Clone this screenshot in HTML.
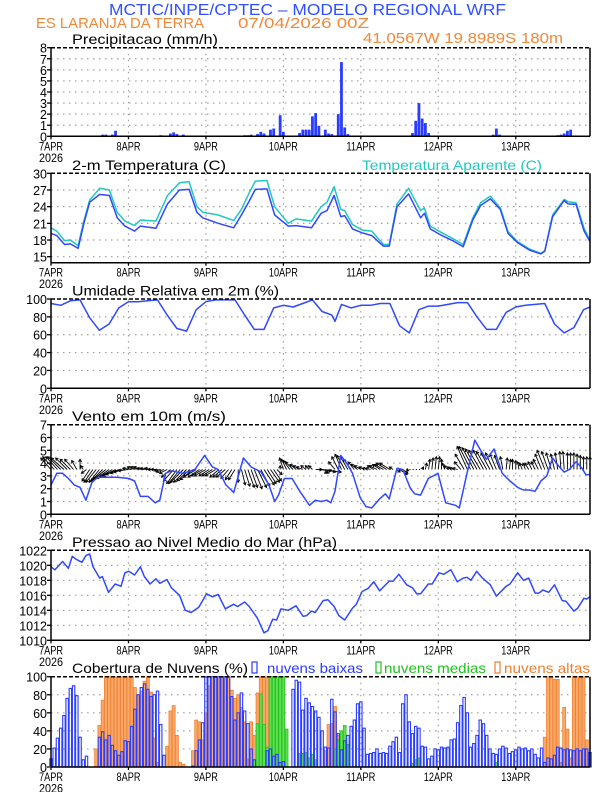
<!DOCTYPE html>
<html><head><meta charset="utf-8">
<style>
html,body{margin:0;padding:0;background:#fff;}
svg{display:block;font-family:"Liberation Sans",sans-serif;}
</style></head>
<body>
<svg id="chart" width="612" height="792" viewBox="0 0 612 792" xmlns="http://www.w3.org/2000/svg">
<text x="109" y="15" font-size="16" fill="#3050ff" textLength="397" lengthAdjust="spacingAndGlyphs">MCTIC/INPE/CPTEC – MODELO REGIONAL WRF</text>
<text x="36" y="28" font-size="15" fill="#f08838" textLength="168" lengthAdjust="spacingAndGlyphs">ES LARANJA DA TERRA</text>
<text x="238" y="28" font-size="15" fill="#f08838" textLength="131" lengthAdjust="spacingAndGlyphs">07/04/2026 00Z</text>
<text x="363" y="43" font-size="15" fill="#f08838" textLength="200" lengthAdjust="spacingAndGlyphs">41.0567W 19.8989S 180m</text>
</svg>
<script>
// ---------- DATA ----------
const dayLabels = ["7APR","8APR","9APR","10APR","11APR","12APR","13APR"];
const yearLabel = "2026";

const precipHours = [16,17,19,20,34,37,38,39,41,50,55,60,61,62,64,65,66,68,69,71,72,77,78,79,80,81,82,83,85,86,87,89,90,91,92,110,111,112,113,114,115,116,117,135,136,137,138,139,157,158,159,160,161];
const precipValues = [0.15,0.15,0.15,0.5,0.1,0.25,0.35,0.2,0.15,0.05,0.05,0.1,0.1,0.15,0.2,0.4,0.25,0.6,0.7,1.9,0.4,0.3,0.6,0.6,0.6,1.8,2.1,0.95,0.6,0.25,0.2,2.0,6.7,0.8,0.2,0.05,0.05,0.3,1.4,3.0,1.6,1.2,0.3,0.05,0.05,0.15,0.7,0.15,0.1,0.15,0.25,0.5,0.6];

const tempHours = [0,1.8,4.2,6,8.4,10.2,12,15.1,18.1,20.5,22.9,25.9,27.7,32.5,36.1,39.8,42.8,45.2,47,51.8,56.6,59,61.4,63.3,66.9,69.3,73.5,75.9,80.7,83.7,85.5,87.7,89.8,91,93.4,96.4,99.4,103,104.8,107.2,110.8,114.5,115.7,117.5,121.1,124.7,127.7,130.7,133.1,136.1,139.2,141.6,144.6,148.2,151.8,153,155.4,159,160.2,162.7,165.1,166.9];
const tempValues = [19.2,18.8,17.2,17.3,16.5,21,24.8,26.2,26,22,20.5,19.6,20.5,20.1,24.5,27,27.1,23,22,21,20.2,22.5,25,27.1,27.2,22.5,20.5,20.6,20.2,22.8,23.3,26,22.2,22.4,20,19.3,18.8,16.9,16.9,24,26.3,22,22.8,20,18.8,17.8,16.8,21.6,24.2,25.4,23.5,19.2,17.5,16.2,15.5,16,22.2,25.1,24.5,24.4,19.7,17.8];
const apparentValues = [20.2,19.6,17.9,18,17,21.5,25.2,27.3,27,23,21.4,20.6,21.6,21.4,26,28.3,28.5,24,23,22.5,21.5,23.5,26.5,28.6,28.7,24,21,21.8,21.4,24,24.8,27.6,23.5,23.3,20.8,19.8,19.6,17.2,17.2,24.5,27.3,23.3,23.8,20.5,19.3,18.2,17.2,22,24.7,25.9,23.8,19.5,17.7,16.4,15.6,16.1,22.5,25.3,24.9,24.7,20.2,18];

const rhHours = [0,3,6,9,12,15,18,21,24,27,30,33,36,39,42,45,48,51,54,57,60,63,66,69,72,75,78,81,84,87,88,90,93,96,99,102,105,108,111,114,117,120,123,126,129,132,135,138,141,144,147,150,153,156,159,162,165,167];
const rhValues = [95,93,98,99,79,65,72,90,97,97,98,99,82,67,64,88,97,99,99,99,82,66,66,90,93,91,95,99,86,82,75,94,90,93,93,95,95,70,62,88,92,92,94,96,96,80,66,66,85,91,93,94,95,72,62,68,88,91];

const windHours = [0,1.8,3.6,5.4,7.2,9,10.8,12.7,14.5,20.5,24.1,25.9,27.7,30.1,32.3,33.7,35.5,37.3,41,44.6,47.6,50,51.8,54.2,56.6,59.6,62,65.1,67.5,69.3,70.5,72.3,74.7,77.1,80.1,81.9,83.7,85.5,86.7,88,89.8,91.6,93.4,95.8,97.6,99.4,101.8,103.6,104.8,107.2,109,111.4,112.7,114.5,116.9,119.9,122.3,125.3,126.5,128.9,131.3,133.1,134.9,137.3,139.8,142.2,144.6,146.4,148.2,150,151.8,153.6,155.4,157.2,159,160.6,162.7,164.5,165.7,166.9];
const windSpeed = [2.3,3.2,3.2,2.8,2.3,2.1,1.1,2.5,2.9,2.9,2.8,2.6,1.4,1.4,0.9,1.1,3.2,3.4,3.2,3.5,4.6,3.7,3.5,2.3,1.7,4.4,3.7,3.3,2.3,1.0,1.5,2.8,2.8,1.8,0.7,1.1,1.0,1.1,0.9,1.8,4.6,4.0,3.2,1.3,0.6,0.5,1.2,1.6,1.2,3.6,3.5,2.0,1.6,1.5,2.8,3.2,0.9,0.7,0.5,3.2,5.8,5.0,4.3,5.1,3.2,2.6,2.1,1.9,1.9,1.8,2.6,3.0,4.4,3.8,3.3,3.5,4.1,3.6,3.1,3.1];

// hourly wind vector components, hour 0..167
const vecU = [-0.8,-0.9,-0.9,-1,-1,-0.9,-0.8,-0.7,-0.4,0,-0.2,-0.4,
-0.6,-0.7,-0.8,-0.8,-0.9,-1,-1,-1,-1,-1,-0.9,-0.9,
-0.8,-0.7,-0.6,-0.6,-0.6,-0.6,-0.6,-0.5,-0.5,-0.5,-0.5,-0.6,
-0.6,-0.7,-0.8,-0.8,-0.9,-1,-1,-1,-1,-1,-0.9,-0.9,
-0.9,-0.8,-0.8,-0.8,-0.7,-0.7,-0.7,-0.6,-0.5,-0.5,0,0.3,
0.4,0.5,0.5,0.6,0.7,0.7,0.8,0.7,0.7,0.6,0.4,0,
-0.3,-0.4,-0.5,-0.6,-0.5,-0.5,-0.5,-0.4,-0.3,-0.3,0.5,1.0,
1.5,0.8,-0.3,-0.4,-0.5,-0.5,-0.5,-0.6,-0.6,-0.6,-0.5,-0.5,
-0.5,-0.4,-0.4,-0.4,-0.5,-0.6,-0.6,-0.7,-0.8,-0.8,-0.3,0.3,
0.6,0.4,0.2,0.1,0.1,0.1,0.1,0.1,0.1,0.1,0.1,0.1,
0.1,0,-0.2,-0.3,-0.3,-0.4,-0.4,-0.5,-0.7,-0.8,-0.9,-0.9,
-0.9,-0.9,-0.8,-0.8,-0.7,-0.6,-0.5,-0.4,-0.2,0.1,0.1,0,
0,-0.1,-0.2,-0.2,-0.3,-0.3,-0.3,-0.4,-0.5,-0.6,-0.5,-0.4,
-0.3,-0.2,-0.1,-0.1,0,0,0,0,0,0,0,0];
const vecV = [0.9,1,1,1,0.9,0.9,0.8,0.8,0.7,0.8,0.3,-0.3,
-0.9,-1,-1,-1,-0.9,-0.8,-0.7,-0.6,-0.5,-0.4,-0.3,-0.2,
-0.1,0.1,0.2,0.2,0.2,0.1,0.1,0.1,0,0,-0.1,-0.2,
-0.3,-0.6,-0.9,-1.1,-1.1,-1.0,-1.0,-0.9,-0.8,-0.6,-0.6,-0.5,
-0.5,-0.5,-0.5,-0.5,-0.6,-0.6,-0.6,-0.7,-0.8,-0.8,-1,-1.2,
-1.3,-1.4,-1.4,-1.5,-1.4,-1.3,-1.2,-1.1,-1.0,-0.9,-0.4,0.3,
0.9,0.8,0.7,0.6,0.4,0.3,0.2,0.3,0.3,0.3,0,-0.1,
-0.2,-0.2,-0.3,-0.3,0.6,1.0,1.2,1.1,1.0,0.8,0.6,0.4,
0.3,0.2,0.1,0.1,0.3,0.3,0.4,0.4,0.5,0.5,0.2,-0.2,
-0.4,-0.3,-0.1,0,0,0,0,0.2,0.5,0.8,0.9,1.0,
1.0,0.8,0.5,0.3,0.2,0.1,0.1,0.6,1.2,1.8,1.8,1.7,
1.6,1.5,1.5,1.4,1.3,1.3,1.2,1.1,1.0,0.9,0.8,0.8,
0.7,0.6,0.5,0.5,0.5,0.6,0.6,0.8,1.2,1.5,1.4,1.3,
1.2,1.3,1.4,1.4,1.3,1.3,1.3,1.2,1.1,1.0,1.0,1.0];

const presHours = [0,1.2,3.6,5.4,6.6,7.8,9.6,10.8,12,13,15.1,15.9,17.8,19.9,21.7,22.9,24.1,25.9,27.7,28.9,30.7,32.5,33.7,35.9,37.3,39.8,41.6,43.4,45.8,48.2,50,51.8,54,56.6,57.8,60,61.4,63.9,66,67.2,68.7,69.9,71.3,73.5,75.9,78.1,79.2,80.7,81.9,84.3,85.8,87.7,89.2,91,93.4,94.6,96.4,98.2,100,101.8,104.8,106,107.8,110.2,112,113.3,114.5,116.9,118.1,120.2,121.7,123.9,125.9,127.7,128.9,130.1,131.9,133.7,136.1,138,141,142.2,144.6,146.4,148,150,151.2,152.4,154.2,156,158.4,159.6,162,163.2,165.1,166,166.9];
const presValues = [1019.8,1019.4,1020.5,1019.6,1021.2,1020.8,1020.4,1021.3,1021.5,1019.8,1018.3,1018.5,1016.4,1017.5,1017.2,1019,1019.2,1018.7,1019.8,1018.5,1017.5,1018.2,1017.6,1018.1,1017,1016,1014,1013.7,1014.4,1016.2,1015.8,1016.1,1014.2,1014.8,1014.5,1015.1,1014.5,1013,1011,1011.3,1012.8,1012.7,1014.2,1014,1014.6,1013.2,1013.3,1013.9,1013.7,1015.3,1015.4,1014.5,1013.3,1012.7,1014.3,1014.8,1016.5,1016.9,1017.8,1016.6,1017.9,1017.9,1018.8,1017.4,1017,1016.2,1016.2,1017.5,1017.5,1019,1018.8,1019.4,1017.8,1018.3,1018.4,1018,1019.2,1018.3,1017.4,1015.9,1017.2,1017.5,1019,1018,1018.3,1016.3,1016.3,1016.7,1016.4,1017.4,1015.3,1015.2,1013.9,1014.3,1015.6,1015.5,1015.8];

const cloudLow = [9,21,32,43,57,76,87,90,79,33,8,12,0,0,0,33,39,30,35,24,18,13,17,29,28,45,64,80,88,92,86,78,80,84,47,13,0,0,0,0,0,0,0,0,1,18,30,49,100,100,100,100,100,100,100,100,78,52,60,82,62,48,20,8,0,0,0,18,20,12,14,5,6,0,0,86,96,94,63,76,71,67,62,55,40,22,21,75,61,37,19,29,35,45,52,70,72,43,14,15,16,20,15,16,15,23,28,33,16,70,80,50,37,45,43,23,22,9,12,20,19,22,21,22,30,31,49,68,77,60,22,26,35,52,48,35,20,15,14,20,23,21,15,17,19,22,20,21,18,20,14,10,21,5,10,9,13,22,21,19,20,19,18,20,18,20,20,16];
const cloudMidHours = [63,64,65,66,67,68,69,70,71,72,73,77,78,79,80,81,82,88,89,90,91,92,112,113,114,138];
const cloudMidValues = [8,48,81,47,22,100,100,100,100,100,42,15,15,16,10,14,8,20,30,40,46,25,4,8,10,5];
const cloudHighHours = [14,15,16,17,18,19,20,21,22,23,24,25,26,27,28,29,30,31,32,33,36,37,38,39,40,41,44,45,46,47,48,49,50,51,52,53,54,55,56,57,58,59,60,61,62,63,64,65,66,67,68,69,70,71,72,85,86,87,88,89,90,153,154,155,156,157,158,159,160,161,162,163,164,165,166];
const cloudHighValues = [20,46,74,100,100,100,100,100,100,100,100,100,88,80,84,95,100,83,32,5,23,62,68,35,5,3,18,52,50,30,60,90,100,100,100,100,100,100,85,76,80,66,50,9,50,35,82,100,100,100,100,100,100,40,5,18,47,48,67,35,22,33,100,100,97,97,5,66,42,10,100,100,100,100,30];

// ---------- LAYOUT ----------
const NS = "http://www.w3.org/2000/svg";
const svg = document.getElementById("chart");
const X0 = 51, X1 = 590, HMAX = 167;
const xS = h => X0 + h * (X1 - X0) / HMAX;
function mk(tag, attrs, parent) {
  const e = document.createElementNS(NS, tag);
  for (const k in attrs) e.setAttribute(k, attrs[k]);
  (parent || svg).appendChild(e);
  return e;
}
function yScale(p) { return v => p.yAt0 + (v - p.v0) * (p.yAt1 - p.yAt0) / (p.v1 - p.v0); }

const panels = {
  precip: {name:"precip", title:"Precipitacao (mm/h)", tw:146, top:47.7, bot:136.3, v0:0, v1:8, yAt0:136.3, yAt1:47.7, ticks:[0,1,2,3,4,5,6,7,8]},
  temp: {name:"temperature", title:"2-m Temperatura (C)", tw:154, top:173.3, bot:262.7, v0:15, v1:30, yAt0:256.7, yAt1:173.3, ticks:[15,18,21,24,27,30]},
  rh: {name:"humidity", title:"Umidade Relativa em 2m (%)", tw:207, top:299, bot:388.3, v0:0, v1:100, yAt0:388.3, yAt1:299, ticks:[0,20,40,60,80,100]},
  wind: {name:"wind", title:"Vento em 10m (m/s)", tw:154, top:424.7, bot:514.3, v0:0, v1:7, yAt0:514.3, yAt1:424.7, ticks:[0,1,2,3,4,5,6,7]},
  pres: {name:"pressure", title:"Pressao ao Nivel Medio do Mar (hPa)", tw:265, top:550.3, bot:640.3, v0:1010, v1:1022, yAt0:640.3, yAt1:550.3, ticks:[1010,1012,1014,1016,1018,1020,1022]},
  cloud: {name:"cloud", title:"Cobertura de Nuvens (%)", tw:176, top:676.7, bot:767, v0:0, v1:100, yAt0:767, yAt1:676.7, ticks:[0,20,40,60,80,100]}
};

function drawFrame(p) {
  const y = yScale(p);
  const g = mk("g", {});
  
  
  p.ticks.forEach(t => {
    const yy = y(t);
    if (yy > p.top + 1 && yy < p.bot - 1) {
      const l = mk("line", {x1:X0, x2:X1, y1:yy, y2:yy, stroke:"#a0a0a0", "stroke-width":1.2, "stroke-dasharray":"1.5,4.5"}, g);
      
      
    }
  });
  for (let d = 1; d < 7; d++) {
    const xx = xS(d * 24);
    const l = mk("line", {x1:xx, x2:xx, y1:p.top, y2:p.bot, stroke:"#a0a0a0", "stroke-width":1.2, "stroke-dasharray":"1.5,4.5"}, g);
    
    
  }
  const t = mk("text", {x:72, y:p.top - 3.5, "font-size":14, fill:"#000", textLength:p.tw, lengthAdjust:"spacingAndGlyphs"}, g);
  t.textContent = p.title;
  
  
  p.ticks.forEach(v => {
    const yy = y(v);
    const tk = mk("line", {x1:X0 - 4, x2:X0, y1:yy, y2:yy, stroke:"#000", "stroke-width":1.3}, g);
    
    
    const lb = mk("text", {x:X0 - 4, y:yy + 5, "font-size":12.5, "text-anchor":"end", fill:"#000"}, g);
    lb.textContent = String(v);
    
    
  });
  dayLabels.forEach((s, i) => {
    const xx = xS(i * 24);
    const tk = mk("line", {x1:xx, x2:xx, y1:p.bot, y2:p.bot + 3, stroke:"#000", "stroke-width":1.3}, g);
    
    
    const lb = mk("text", {x:xx, y:p.bot + 14, "font-size":12, "text-anchor":"middle", fill:"#000", textLength:s.length > 4 ? 29 : 24, lengthAdjust:"spacingAndGlyphs"}, g);
    lb.textContent = s;
    
    
  });
  const yr = mk("text", {x:xS(0), y:p.bot + 25.5, "font-size":12, "text-anchor":"middle", fill:"#000", textLength:24, lengthAdjust:"spacingAndGlyphs"}, g);
  yr.textContent = yearLabel;
  
  
  return g;
}
function drawBorder(p) {
  const g = mk("g", {});
  
  
  const a = mk("line", {x1:X0, x2:X0, y1:p.top, y2:p.bot, stroke:"#000", "stroke-width":1.5}, g);
  
  
  const b = mk("line", {x1:X0, x2:X1, y1:p.bot, y2:p.bot, stroke:"#000", "stroke-width":1.5}, g);
  
  
  const c = mk("line", {x1:X0, x2:X1, y1:p.top, y2:p.top, stroke:"#000", "stroke-width":1.5, "stroke-dasharray":"4,2"}, g);
  
  
  const d = mk("line", {x1:X1, x2:X1, y1:p.top, y2:p.bot, stroke:"#000", "stroke-width":1.5}, g);
  
  
}
function drawLine(p, hrs, vals, color, name) {
  const y = yScale(p);
  const pts = hrs.map((h, i) => xS(h).toFixed(1) + "," + y(vals[i]).toFixed(1)).join(" ");
  const l = mk("polyline", {points:pts, fill:"none", stroke:color, "stroke-width":1.5, "stroke-linejoin":"round"});
  
  
}

Object.values(panels).forEach(drawFrame);

(function(){
  const p = panels.precip, y = yScale(p);
  precipHours.forEach((h, i) => {
    const r = mk("rect", {x:xS(h) - 1.4, y:y(precipValues[i]), width:2.8, height:Math.max(0.5, y(0) - y(precipValues[i])), fill:"#2a3cff"});
    
    
  });
})();

drawLine(panels.temp, tempHours, apparentValues, "#20c8c0", "apparent-temperature-line");
drawLine(panels.temp, tempHours, tempValues, "#3048ff", "temperature-line");
(function(){
  const t = mk("text", {x:362, y:170, "font-size":14, fill:"#20c8c0", textLength:180, lengthAdjust:"spacingAndGlyphs"});
  t.textContent = "Temperatura Aparente (C)";
  
  
})();

drawLine(panels.rh, rhHours, rhValues, "#3048ff", "humidity-line");

(function(){
  const p = panels.wind, y = yScale(p);
  const unit = (p.yAt0 - p.yAt1) / (p.v1 - p.v0);
  const g = mk("g", {stroke:"#000", "stroke-width":0.9, fill:"none"});
  
  
  vecU.forEach((u, h) => {
    const bx = xS(h), by = y(3.5);
    const ex = bx + u * unit, ey = by - vecV[h] * unit;
    const len = Math.hypot(ex - bx, ey - by);
    const l = mk("line", {x1:bx, y1:by, x2:ex, y2:ey}, g);
    
    
    if (len > 2) {
      const ux = (ex - bx) / len, uy = (ey - by) / len, s = 2.6;
      const hd = mk("polyline", {points:`${ex - s*ux + s*0.6*uy},${ey - s*uy - s*0.6*ux} ${ex},${ey} ${ex - s*ux - s*0.6*uy},${ey - s*uy + s*0.6*ux}`}, g);
      
      
    }
  });
})();
drawLine(panels.wind, windHours, windSpeed, "#3048ff", "wind-speed-line");

drawLine(panels.pres, presHours, presValues, "#3048ff", "pressure-line");

(function(){
  const p = panels.cloud, y = yScale(p);
  cloudHighHours.forEach((h, i) => {
    const v = cloudHighValues[i];
    const r = mk("rect", {x:xS(h) - 1.5, y:y(v), width:3, height:y(0) - y(v), fill:"#f8a868", stroke:"#f08030", "stroke-width":0.8});
    
    
  });
  cloudMidHours.forEach((h, i) => {
    const v = cloudMidValues[i];
    const r = mk("rect", {x:xS(h) - 1.4, y:y(v), width:2.8, height:y(0) - y(v), fill:"#60e050", stroke:"#20c020", "stroke-width":0.8});
    
    
  });
  cloudLow.forEach((v, h) => {
    if (v <= 0) return;
    const r = mk("rect", {x:xS(h) - 1.2, y:y(v), width:2.4, height:y(0) - y(v), fill:"none", stroke:"#2a3cff", "stroke-width":1.1});
    
    
  });
  const items = [["nuvens baixas", "#2a3cff", 252, 267, 96], ["nuvens medias", "#20c020", 376, 384, 102], ["nuvens altas", "#f08030", 495, 504, 86]];
  items.forEach(it => {
    const b = mk("rect", {x:it[2], y:662, width:5, height:11, fill:"none", stroke:it[1], "stroke-width":1.2});
    
    
    const t = mk("text", {x:it[3], y:673, "font-size":14, fill:it[1], textLength:it[4], lengthAdjust:"spacingAndGlyphs"});
    t.textContent = it[0];
    
    
  });
})();

Object.values(panels).forEach(drawBorder);
</script>
</body></html>
